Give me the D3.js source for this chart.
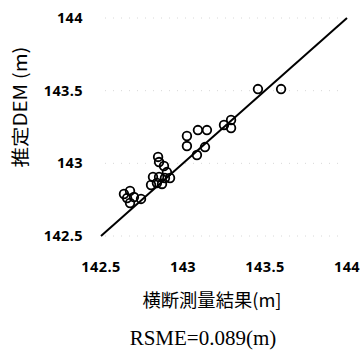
<!DOCTYPE html>
<html>
<head>
<meta charset="utf-8">
<script src="https://cdn.jsdelivr.net/npm/d3@7"></script>
<style>
  body { margin: 0; background: #fff; }
  svg { display: block; }
</style>
</head>
<body>
<script>
// observed (cross-section survey) vs estimated DEM, metres
var surveyed = [143.457, 143.598, 143.250, 143.293, 143.293, 143.024, 143.024,
                143.091, 143.146, 143.134, 143.085, 142.848, 142.854, 142.884,
                142.902, 142.817, 142.854, 142.890, 142.921, 142.805, 142.841,
                142.872, 142.640, 142.677, 142.701, 142.659, 142.744, 142.677];
var estimated = [143.511, 143.511, 143.264, 143.298, 143.243, 143.188, 143.119,
                 143.229, 143.229, 143.112, 143.057, 143.044, 143.009, 142.982,
                 142.940, 142.906, 142.906, 142.899, 142.899, 142.851, 142.865,
                 142.858, 142.789, 142.810, 142.768, 142.761, 142.755, 142.727];
var ticks = [142.5, 143, 143.5, 144];
var tickLabels = ["142.5", "143", "143.5", "144"];

var width = 363, height = 353;

var svg = d3.select("body").append("svg")
    .attr("width", width).attr("height", height);

var x = d3.scaleLinear().domain([142.5, 144]).range([101, 347]);
var y = d3.scaleLinear().domain([142.5, 144]).range([236, 18]);

// faint dotted grid left over from the original figure
svg.selectAll(".grid").data(ticks).enter().append("line")
    .attr("x1", 105).attr("x2", 345)
    .attr("y1", function(d) { return y(d); })
    .attr("y2", function(d) { return y(d); })
    .attr("stroke", "#d8d8d8")
    .attr("stroke-width", 1)
    .attr("stroke-dasharray", "1,7");

// y tick labels
svg.selectAll(".ytick").data(ticks).enter().append("text")
    .attr("x", 83)
    .attr("y", function(d) { return y(d) + 5; })
    .attr("text-anchor", "end")
    .attr("font-family", "Open Sans")
    .attr("font-weight", "bold")
    .attr("font-size", 14.5)
    .attr("letter-spacing", 0.4)
    .text(function(d, i) { return tickLabels[i]; });

// x tick labels
svg.selectAll(".xtick").data(ticks).enter().append("text")
    .attr("x", function(d) { return x(d); })
    .attr("y", 272)
    .attr("text-anchor", "middle")
    .attr("font-family", "Open Sans")
    .attr("font-weight", "bold")
    .attr("font-size", 14.5)
    .attr("letter-spacing", 0.4)
    .text(function(d, i) { return tickLabels[i]; });

// 1:1 line
svg.append("line")
    .attr("x1", x(142.5)).attr("y1", y(142.5))
    .attr("x2", x(144)).attr("y2", y(144))
    .attr("stroke", "#000")
    .attr("stroke-width", 2);

// points
svg.selectAll(".pt").data(surveyed).enter().append("circle")
    .attr("cx", function(d) { return x(d); })
    .attr("cy", function(d, i) { return y(estimated[i]); })
    .attr("r", 4.3)
    .attr("fill", "none")
    .attr("stroke", "#000")
    .attr("stroke-width", 1.8);

// axis titles
svg.append("text")
    .attr("transform", "translate(27,107) rotate(-90)")
    .attr("text-anchor", "middle")
    .attr("font-family", "Noto Sans CJK JP")
    .attr("font-size", 18)
    .attr("textLength", 121)
    .attr("lengthAdjust", "spacingAndGlyphs")
    .text("推定DEM (m)");

svg.append("text")
    .attr("x", 212).attr("y", 307)
    .attr("text-anchor", "middle")
    .attr("font-family", "Noto Sans CJK JP")
    .attr("font-size", 18)
    .attr("textLength", 139)
    .attr("lengthAdjust", "spacingAndGlyphs")
    .text("横断測量結果(m]");

svg.append("text")
    .attr("x", 203).attr("y", 345)
    .attr("text-anchor", "middle")
    .attr("font-family", "Liberation Serif")
    .attr("font-size", 21)
    .text("RSME=0.089(m)");
</script>
</body>
</html>
